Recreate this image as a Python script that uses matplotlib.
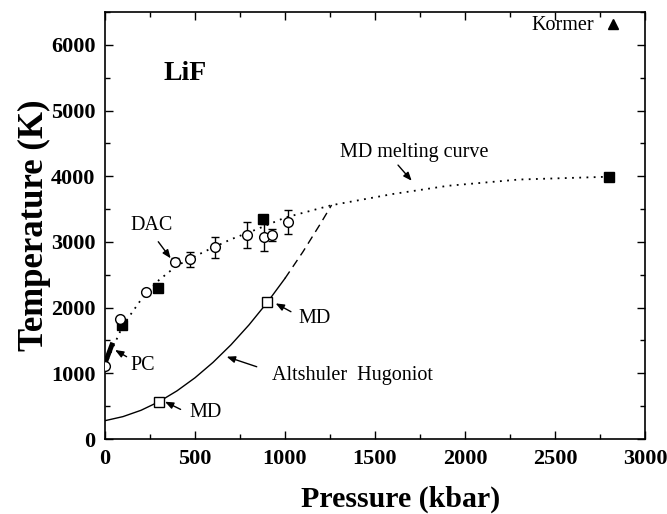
import matplotlib
matplotlib.use('Agg')
import matplotlib.pyplot as plt
import numpy as np

# MD melting curve (dotted)
melt_p = [0, 50, 100, 200, 300, 400, 550, 700, 850, 1000, 1260, 1600, 1906, 2300, 2800]
melt_t = [1111, 1430, 1730, 2120, 2420, 2640, 2850, 3040, 3200, 3370, 3560, 3730, 3855, 3950, 3993]

# Altshuler Hugoniot, solid part and dashed extension
hug_p = [0, 100, 200, 300, 400, 500, 600, 700, 800, 902, 1000]
hug_t = [279, 341, 437, 568, 733, 932, 1166, 1434, 1737, 2081, 2445]
hug_ext_p = [1000, 1100, 1200, 1259]
hug_ext_t = [2445, 2851, 3291, 3562]

# DAC measurements (open circles) with error bars
dac_p = [0, 83, 228, 389, 472, 611, 787, 883, 930, 1015]
dac_t = [1111, 1826, 2237, 2698, 2735, 2918, 3105, 3070, 3105, 3308]
dac_err = [0, 0, 0, 50, 110, 160, 195, 210, 90, 180]

# MD melting points (filled squares)
mdm_p = [96, 296, 880, 2800]
mdm_t = [1735, 2293, 3344, 3993]

# MD Hugoniot points (open squares)
mdh_p = [300, 902]
mdh_t = [568, 2081]

# PC segment
pc_p = [0, 43]
pc_t = [1152, 1466]

# Kormer
kor_p = [2820]
kor_t = [6320]

serif = 'Liberation Serif'

fig = plt.figure(figsize=(6.67, 5.14), dpi=100)
ax = fig.add_axes([0.1574, 0.1459, 0.8096, 0.8307])

ax.plot(melt_p, melt_t, color='k', lw=1.3, linestyle=(0, (1, 3.0)), zorder=2)
ax.plot(hug_p, hug_t, color='k', lw=1.0, zorder=2)
ax.plot(hug_ext_p, hug_ext_t, color='k', lw=1.0, linestyle=(0, (6, 4)), zorder=2)
ax.plot(pc_p, pc_t, color='k', lw=3.5, solid_capstyle='butt', zorder=3)

ax.errorbar(dac_p, dac_t, yerr=dac_err, fmt='o', ms=7, mfc='white', mec='k',
            mew=1.0, ecolor='k', elinewidth=1.0, capsize=3, capthick=1.0, zorder=4)
ax.plot(mdm_p, mdm_t, 's', ms=6.5, color='k', zorder=4)
ax.plot(mdh_p, mdh_t, 's', ms=6.5, mfc='white', mec='k', mew=1.0, zorder=4)
ax.plot(kor_p, kor_t, '^', ms=7, color='k', zorder=4)

ax.set_xlim(0, 3000)
ax.set_ylim(0, 6500)
ax.set_xticks(np.arange(0, 3001, 500))
ax.set_xticks(np.arange(0, 3001, 250), minor=True)
ax.set_yticks(np.arange(0, 6001, 1000))
ax.set_yticks(np.arange(0, 6501, 500), minor=True)
ax.tick_params(which='both', direction='in', top=True, right=True, width=1.0)
ax.tick_params(which='major', length=6, pad=7)
ax.tick_params(which='minor', length=3.5)
for sp in ax.spines.values():
    sp.set_linewidth(1.2)
for lab in ax.get_xticklabels() + ax.get_yticklabels():
    lab.set_fontfamily(serif)
    lab.set_fontweight('bold')
    lab.set_fontsize(16)

ax.set_xlabel('Pressure (kbar)', fontfamily=serif, fontweight='bold', fontsize=21.5)
ax.set_ylabel('Temperature (K)', fontfamily=serif, fontweight='bold', fontsize=25)
ax.xaxis.set_label_coords(0.548, -0.11)
ax.yaxis.set_label_coords(-0.1, 0.5)

txt = dict(fontfamily=serif, fontsize=14.5, color='k')
arr = dict(arrowstyle='-|>,head_length=0.5,head_width=0.2', color='k', lw=1.0,
           shrinkA=0, shrinkB=0)

ax.text(323, 5570, 'LiF', fontfamily=serif, fontweight='bold', fontsize=20,
        ha='left', va='center')
ax.text(2715, 6300, 'Kormer', ha='right', va='center', **txt)

ax.annotate('', xy=(365, 2750), xytext=(296, 3003), arrowprops=arr)
ax.text(261, 3250, 'DAC', ha='center', va='center', **txt)

ax.annotate('', xy=(1704, 3931), xytext=(1628, 4170), arrowprops=arr)
ax.text(2128, 4368, 'MD melting curve', ha='right', va='center', **txt)

ax.annotate('', xy=(56, 1355), xytext=(120, 1253), arrowprops=arr)
ax.text(140, 1126, 'PC', ha='left', va='center', **txt)

ax.annotate('', xy=(333, 568), xytext=(420, 451), arrowprops=arr)
ax.text(470, 396, 'MD', ha='left', va='center', **txt)

ax.annotate('', xy=(948, 2065), xytext=(1033, 1938), arrowprops=arr)
ax.text(1073, 1842, 'MD', ha='left', va='center', **txt)

ax.annotate('', xy=(676, 1253), xytext=(843, 1100), arrowprops=arr)
ax.text(926, 974, 'Altshuler  Hugoniot', ha='left', va='center', **txt)

fig.savefig('out.png', dpi=100)
